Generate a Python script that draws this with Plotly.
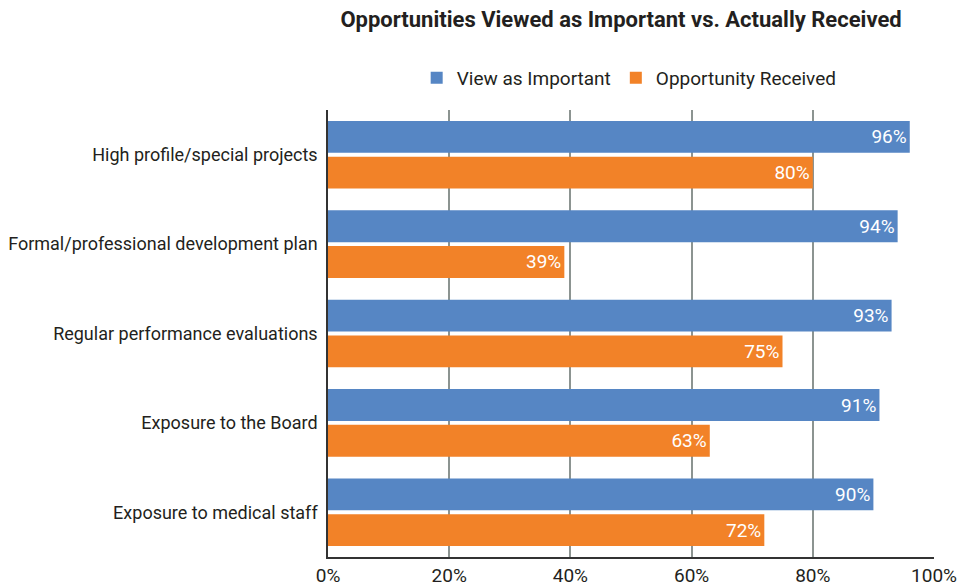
import plotly.graph_objects as go

categories = [
    "High profile/special projects",
    "Formal/professional development plan",
    "Regular performance evaluations",
    "Exposure to the Board",
    "Exposure to medical staff",
]
important = [96, 94, 93, 91, 90]
received = [80, 39, 75, 63, 72]
tick_vals = [0, 20, 40, 60, 80, 100]
tick_text = ["0%", "20%", "40%", "60%", "80%", "100%"]

FONT = "Roboto, 'DejaVu Sans Condensed', sans-serif"
TXT = "#231f20"

fig = go.Figure()
fig.add_trace(go.Bar(
    y=categories, x=important, orientation="h", name="View as Important",
    marker=dict(color="#5686c4", line=dict(width=0)),
    text=[f"{v}%" for v in important], textposition="inside",
    insidetextanchor="end", textfont=dict(color="white", size=19, family=FONT),
))
fig.add_trace(go.Bar(
    y=categories, x=received, orientation="h", name="Opportunity Received",
    marker=dict(color="#f28228", line=dict(width=0)),
    text=[f"{v}%" for v in received], textposition="inside",
    insidetextanchor="end", textfont=dict(color="white", size=19, family=FONT),
))

fig.update_layout(
    width=959, height=588,
    margin=dict(l=328, r=25, t=110, b=31, autoexpand=False),
    paper_bgcolor="white", plot_bgcolor="white",
    barmode="group", bargap=0.2, bargroupgap=0.11,
    font=dict(family=FONT, color=TXT, size=18),
    title=dict(text="<b>Opportunities Viewed as Important vs. Actually Received</b>",
               x=0.6476, xanchor="center", y=1 - 19 / 588, yanchor="middle",
               font=dict(size=22, family=FONT, color=TXT)),
    legend=dict(orientation="h", x=0.497, xanchor="center", y=1 - 78 / 588, yref="container",
                yanchor="middle", font=dict(size=19, family=FONT, color=TXT),
                itemwidth=30, traceorder="normal"),
    uniformtext=dict(minsize=17, mode="show"),
)
fig.update_xaxes(range=[0, 100], tickvals=tick_vals, ticktext=tick_text,
                 showgrid=True, gridcolor="#8c9491", gridwidth=1.5,
                 showline=True, linecolor="#333333", linewidth=1.5,
                 ticks="", tickfont=dict(size=19, family=FONT, color=TXT),
                 zeroline=False, automargin=False)
fig.update_yaxes(autorange="reversed", showline=True, linecolor="#333333", linewidth=1.5,
                 ticks="", ticklabelstandoff=5, automargin=False,
                 tickfont=dict(size=18, family=FONT, color=TXT))

fig.write_html("out.html")
